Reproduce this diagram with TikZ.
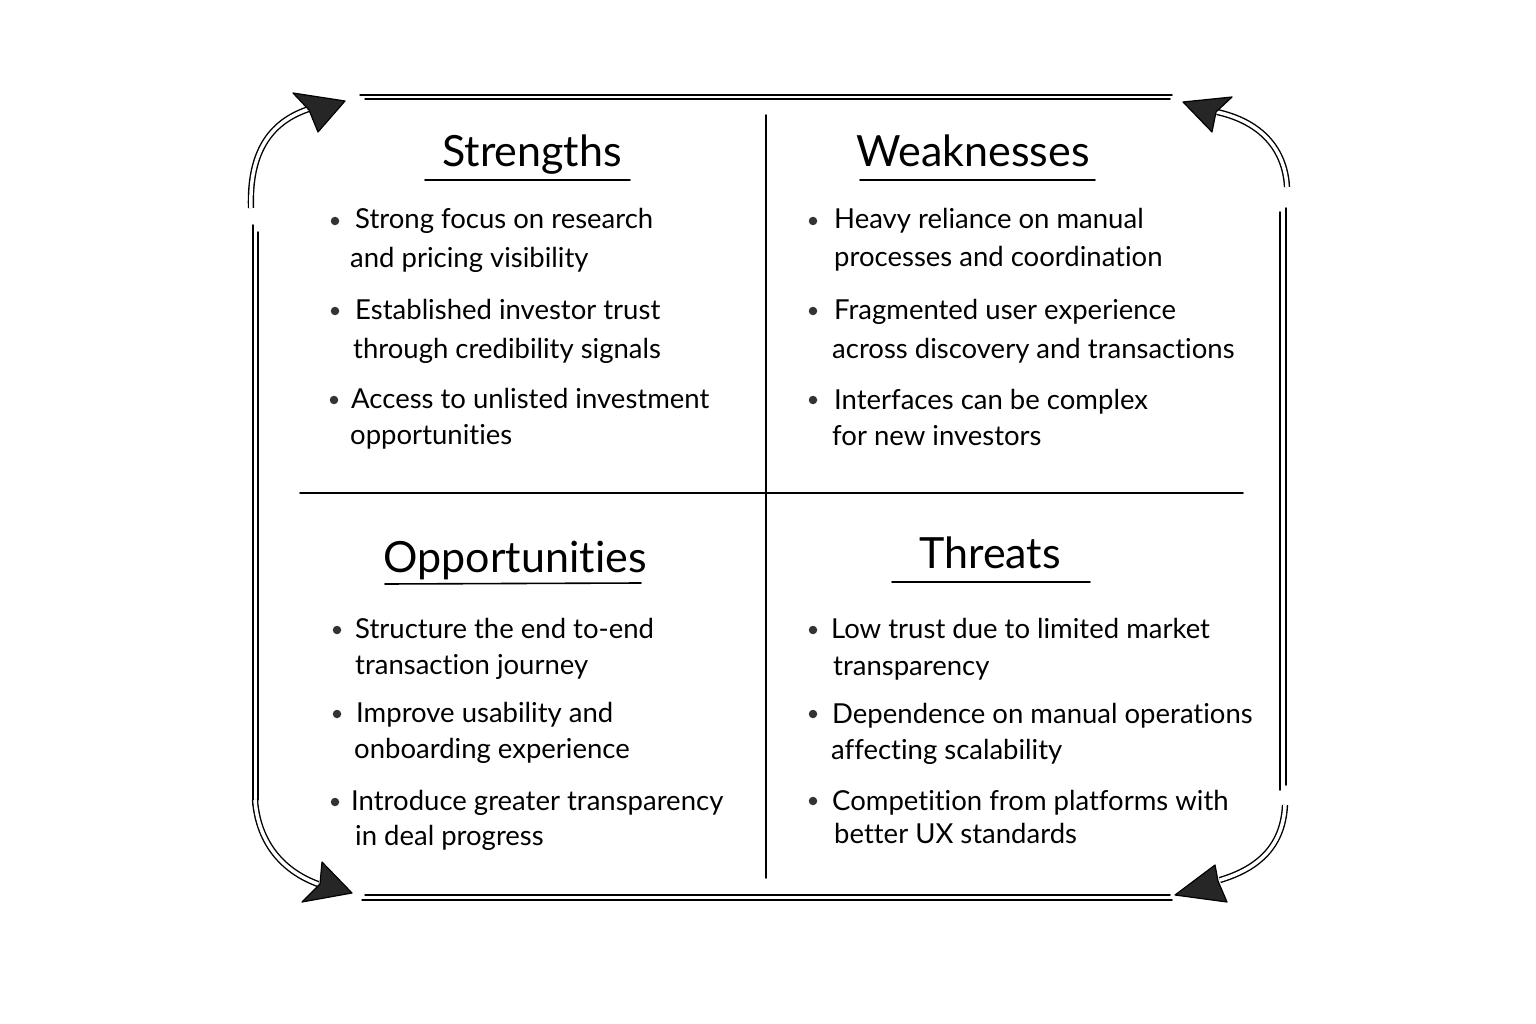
\documentclass[tikz,border=0pt]{standalone}
\usepackage{fontspec}
\setmainfont{Lato}[Ligatures=NoCommon]
\begin{document}
\begin{tikzpicture}[x=1pt,y=-1pt,
  frameline/.style={line width=1.5pt, line cap=round},
  gridline/.style={line width=1.6pt, line cap=round},
  ttl/.style={font=\fontsize{43}{46}\selectfont, anchor=base, inner sep=0pt},
  ul/.style={line width=1.6pt, line cap=round},
  itm/.style={font=\fontsize{27.5}{30}\selectfont, anchor=base west, inner sep=0pt},
  bdot/.style={circle, fill=black!80, inner sep=0pt, minimum size=8.5pt},
  shaft/.style={draw=black, line width=1.4pt, double=white, double distance=3.5pt},
  ahead/.style={fill=black!85, draw=black, line width=1.2pt, line join=round}]
\useasboundingbox (0,0) rectangle (1536,1024);

% frame (double lines)
\draw[frameline] (360,95) -- (1172,95);
\draw[frameline] (365,99) -- (1170,99);
\draw[frameline] (365,895) -- (1170,895);
\draw[frameline] (362,900) -- (1172,900);
\draw[frameline] (253,225) -- (253,805);
\draw[frameline] (258,232) -- (258,800);
\draw[frameline] (1280,212) -- (1280,790);
\draw[frameline] (1286,208) -- (1286,785);

% grid
\draw[gridline] (766,115) -- (766,878);
\draw[gridline] (300,493) -- (1243,493);

% corner arrows
\coordinate (tls) at (251,208); \coordinate (tle) at (312,108);
\draw[shaft] (tls) .. controls (249,150) and (272,120) .. (tle);
\draw[ahead] (345,101) -- (293,93) -- (309,110) -- (318,132) -- cycle;

\coordinate (trs) at (1287,187); \coordinate (tre) at (1217,112);
\draw[shaft] (trs) .. controls (1285,150) and (1262,122) .. (tre);
\draw[ahead] (1183,102) -- (1232,97) -- (1216,112) -- (1212,132) -- cycle;

\coordinate (bls) at (255,800); \coordinate (ble) at (318,884);
\draw[shaft] (bls) .. controls (258,840) and (280,870) .. (ble);
\draw[ahead] (352,893) -- (322,862) -- (320,884) -- (302,902) -- cycle;

\coordinate (brs) at (1285,805); \coordinate (bre) at (1220,880);
\draw[shaft] (brs) .. controls (1283,845) and (1260,868) .. (bre);
\draw[ahead] (1175,895) -- (1215,865) -- (1218,881) -- (1227,902) -- cycle;

% headings
\node[ttl] (hs) at (532,167) {Strengths};
\draw[ul] (425,180) -- (630,180);
\node[ttl] (hw) at (973,167) {Weaknesses};
\draw[ul] (860,180) -- (1095,180);
\node[ttl] (ho) at (515,572) {Opportunities};
\draw[ul] (385,584) -- (641,583);
\node[ttl] (ht) at (990,568) {Threats};
\draw[ul] (892,582) -- (1090,582);

% Strengths
\node[bdot] (sd1) at (335,221) {};
\node[itm] (s1a) at (355,229) {Strong focus on research};
\node[itm] (s1b) at (350,268) {and pricing visibility};
\node[bdot] (sd2) at (335,311) {};
\node[itm] (s2a) at (355,319) {Established investor trust};
\node[itm] (s2b) at (353,358) {through credibility signals};
\node[bdot] (sd3) at (334,400) {};
\node[itm] (s3a) at (351,408) {Access to unlisted investment};
\node[itm] (s3b) at (350,444) {opportunities};

% Weaknesses
\node[bdot] (wd1) at (813,221) {};
\node[itm] (w1a) at (834,229) {Heavy reliance on manual};
\node[itm] (w1b) at (834,267) {processes and coordination};
\node[bdot] (wd2) at (813,311) {};
\node[itm] (w2a) at (834,319) {Fragmented user experience};
\node[itm] (w2b) at (832,358) {across discovery and transactions};
\node[bdot] (wd3) at (813,400) {};
\node[itm] (w3a) at (834,409) {Interfaces can be complex};
\node[itm] (w3b) at (832,445) {for new investors};

% Opportunities
\node[bdot] (od1) at (337,630) {};
\node[itm] (o1a) at (355,638) {Structure the end to-end};
\node[itm] (o1b) at (355,674) {transaction journey};
\node[bdot] (od2) at (337,714) {};
\node[itm] (o2a) at (356,722) {Improve usability and};
\node[itm] (o2b) at (354,758) {onboarding experience};
\node[bdot] (od3) at (335,802) {};
\node[itm] (o3a) at (351,810) {Introduce greater transparency};
\node[itm] (o3b) at (355,845) {in deal progress};

% Threats
\node[bdot] (td1) at (813,630) {};
\node[itm] (t1a) at (831,638) {Low trust due to limited market};
\node[itm] (t1b) at (833,675) {transparency};
\node[bdot] (td2) at (813,714) {};
\node[itm] (t2a) at (832,723) {Dependence on manual operations};
\node[itm] (t2b) at (831,759) {affecting scalability};
\node[bdot] (td3) at (813,801) {};
\node[itm] (t3a) at (832,810) {Competition from platforms with};
\node[itm] (t3b) at (834,843) {better UX standards};
\end{tikzpicture}
\end{document}
